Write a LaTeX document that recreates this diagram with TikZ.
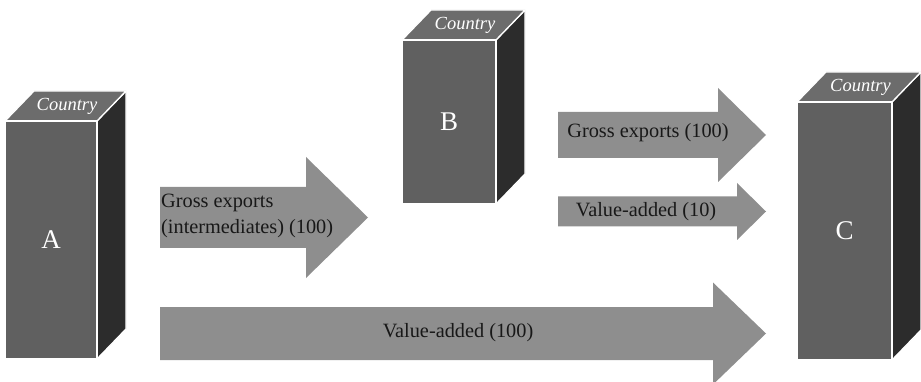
\documentclass[tikz,border=0pt]{standalone}
\usepackage{fontspec}
\setmainfont{Liberation Serif}
\usetikzlibrary{calc}

\definecolor{frontgray}{RGB}{96,96,96}
\definecolor{sidegray}{RGB}{44,44,44}
\definecolor{topgray}{RGB}{108,108,108}
\definecolor{arrowgray}{RGB}{142,142,142}
\definecolor{inkdark}{RGB}{24,24,24}

\tikzset{
  face/.style={draw=white, line width=1.3pt, line join=miter},
  frontface/.style={face, fill=frontgray},
  sideface/.style={face, fill=sidegray},
  topface/.style={face, fill=topgray},
  letter/.style={text=white, inner sep=0pt, font=\fontsize{27}{27}\selectfont},
  toplabel/.style={text=white, inner sep=0pt, font=\fontsize{18.5}{18.5}\selectfont\itshape},
  flow/.style={fill=arrowgray},
  flowlabel/.style={text=inkdark, inner sep=0pt, font=\fontsize{20.3}{26}\selectfont},
}

% country block: name, left, top, right, bottom, letter
\newcommand\countrybox[6]{%
  \fill[sideface] (#4,#3) -- ++(29,-30) -- ({#4+29},{#5-30}) -- (#4,#5) -- cycle;
  \fill[topface] (#2,#3) -- ++(29,-30) -- ({#4+29},{#3-30}) -- (#4,#3) -- cycle;
  \fill[frontface] (#2,#3) rectangle (#4,#5);
  \node[letter] (#1) at ({(#2+#4)/2},{(#3+#5)/2}) {#6};
  \node[toplabel] (#1-top) at ({(#2+#4)/2+16},{#3-15}) {Country};
}

% block arrow: name, tail x, head x, tip x, centre y, shaft half-width, head half-width
\newcommand\flowarrow[7]{%
  \fill[flow] (#2,{#5-#6}) -- (#3,{#5-#6}) -- (#3,{#5-#7}) -- (#4,#5)
    -- (#3,{#5+#7}) -- (#3,{#5+#6}) -- (#2,{#5+#6}) -- cycle;
  \coordinate (#1-tail) at (#2,#5);
  \coordinate (#1-tip) at (#4,#5);
}

\begin{document}
\begin{tikzpicture}[x=1pt, y=-1pt]
  \useasboundingbox (0,0) rectangle (921,382);

  % countries
  \countrybox{A}{5}{121}{97}{359}{A}
  \countrybox{B}{402}{40}{496}{204}{B}
  \countrybox{C}{797}{102}{892}{360}{C}

  % flows
  \flowarrow{ab}{160}{306}{368}{217.5}{30.5}{60.5}
  \flowarrow{bcgross}{558}{718}{766}{135}{23}{47}
  \flowarrow{bcva}{558}{737}{766}{211.5}{15}{28.5}
  \flowarrow{acva}{160}{713}{766}{333.5}{26.5}{51}

  % flow labels
  \node[flowlabel, anchor=west, align=left] (ab-label) at (161,216)
    {Gross exports\\(intermediates) (100)};
  \node[flowlabel] (bcgross-label) at (648,133) {Gross exports (100)};
  \node[flowlabel] (bcva-label) at (646,212) {Value-added (10)};
  \node[flowlabel] (acva-label) at (458,333) {Value-added (100)};
\end{tikzpicture}
\end{document}
